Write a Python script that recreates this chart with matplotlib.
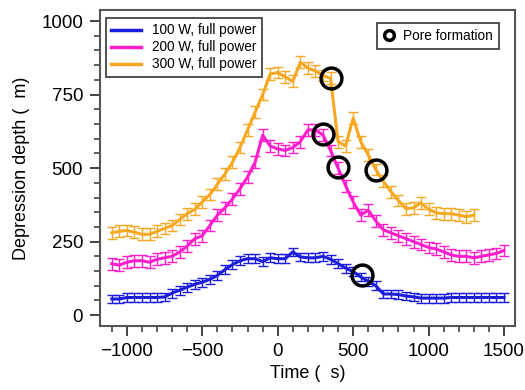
import matplotlib
matplotlib.use("Agg")
import matplotlib.pyplot as plt
from matplotlib.ticker import MultipleLocator
from matplotlib.lines import Line2D

plt.rcParams['font.family'] = ['Liberation Sans', 'DejaVu Sans']

# Data
time_blue = list(range(-1100, 1501, 50))
depth_blue = [55, 55, 60, 60, 60, 60, 60, 62, 75, 85, 95, 105, 112, 122, 135, 155, 172, 185,
              192, 192, 182, 195, 192, 192, 215, 198, 195, 195, 200, 190, 175, 160, 148, 130,
              115, 100, 72, 72, 70, 65, 62, 58, 58, 58, 58, 60, 60, 60, 60, 60, 60, 60, 60]
err_blue = 15

time_pink = list(range(-1100, 1501, 50))
depth_pink = [175, 170, 180, 185, 185, 180, 190, 195, 200, 215, 235, 260, 270, 305, 340, 365,
              395, 430, 470, 520, 612, 575, 565, 560, 570, 590, 630, 630, 612, 560, 500, 440,
              385, 340, 357, 320, 290, 280, 270, 260, 250, 240, 230, 225, 215, 205, 200, 200,
              195, 200, 205, 210, 220]
err_pink = 20

time_orange = list(range(-1100, 1301, 50))
depth_orange = [280, 285, 288, 282, 275, 275, 285, 295, 305, 325, 345, 360, 385, 410, 445, 480,
                520, 570, 630, 690, 750, 820, 825, 810, 795, 860, 840, 830, 815, 805, 590, 575,
                670, 590, 545, 495, 455, 420, 390, 362, 365, 382, 360, 348, 345, 345, 340, 335,
                340]
err_orange = 20

pore_time = [350, 300, 400, 650, 560]
pore_depth = [805, 615, 503, 495, 138]

labels = ["100 W, full power", "200 W, full power", "300 W, full power"]
colors = ["#1c1cdc", "#ff1ecb", "#f7a823"]

fig = plt.figure(figsize=(5.25, 3.9), dpi=100)
ax = fig.add_axes([0.190, 0.164, 0.791, 0.810])

handles = []
for t, d, e, c, lab in [(time_blue, depth_blue, err_blue, colors[0], labels[0]),
                        (time_pink, depth_pink, err_pink, colors[1], labels[1]),
                        (time_orange, depth_orange, err_orange, colors[2], labels[2])]:
    ax.errorbar(t, d, yerr=e, color=c, lw=2.2, elinewidth=1.0, capsize=3.5,
                capthick=1.0, zorder=2)
    handles.append(Line2D([0], [0], color=c, lw=2.5, label=lab))

ax.plot(pore_time, pore_depth, 'o', ms=15, mfc='none', mec='black', mew=2.5, zorder=5)

ax.set_xlim(-1180, 1573)
ax.set_ylim(-37, 1037)
ax.xaxis.set_major_locator(MultipleLocator(500))
ax.xaxis.set_minor_locator(MultipleLocator(100))
ax.yaxis.set_major_locator(MultipleLocator(250))
ax.yaxis.set_minor_locator(MultipleLocator(50))
ax.tick_params(which='major', direction='out', length=7, width=1.3, labelsize=13.5,
               color='#333333', pad=5)
ax.tick_params(which='minor', direction='out', length=4, width=1.1, color='#333333')
for s in ax.spines.values():
    s.set_linewidth(1.5)
    s.set_color('#555555')

ax.set_xlabel("Time (  s)", fontsize=13, labelpad=4)
ax.set_ylabel("Depression depth (  m)", fontsize=13, labelpad=8)

leg1 = ax.legend(handles=handles, loc='upper left', bbox_to_anchor=(0.015, 0.975),
                 fontsize=9.8, frameon=True, fancybox=False, edgecolor='black',
                 handlelength=2.2, handletextpad=0.8, labelspacing=0.22,
                 borderpad=0.4, borderaxespad=0.0)
leg1.get_frame().set_linewidth(1.2)
ax.add_artist(leg1)

pore_handle = Line2D([0], [0], marker='o', ls='none', ms=7, mfc='none', mec='black',
                     mew=2.5, label='Pore formation')
leg2 = ax.legend(handles=[pore_handle], loc='upper right', bbox_to_anchor=(0.962, 0.96),
                 fontsize=9.8, frameon=True, fancybox=False, edgecolor='black',
                 handlelength=0.9, handletextpad=0.6, borderpad=0.45, borderaxespad=0.0)
leg2.get_frame().set_linewidth(1.2)

fig.savefig("out.png", dpi=100)
